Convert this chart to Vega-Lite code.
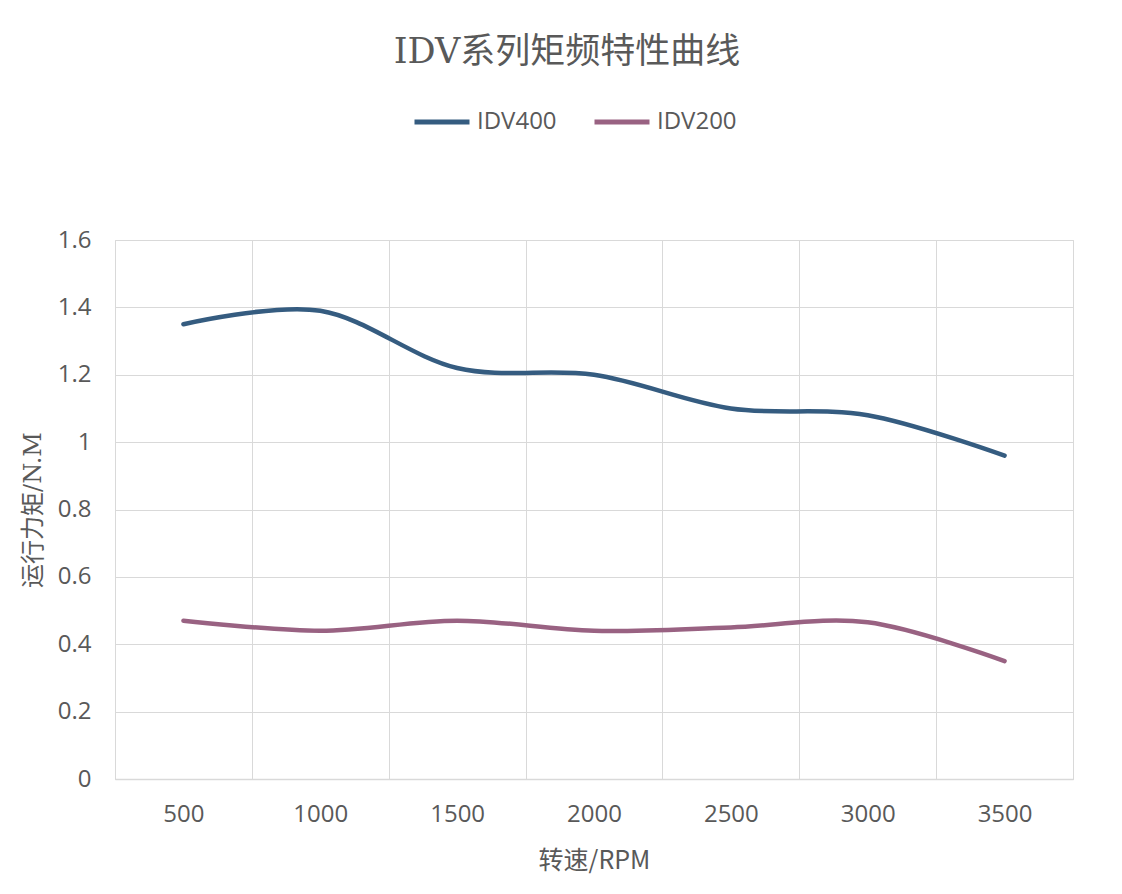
{
  "$schema": "https://vega.github.io/schema/vega-lite/v6.json",
  "width": 958,
  "height": 539,
  "autosize": {"type": "none"},
  "padding": {"left": 115, "top": 240, "right": 49, "bottom": 115},
  "background": "white",
  "title": {
    "text": "IDV系列矩频特性曲线",
    "font": "DejaVu Serif, Noto Sans CJK SC",
    "fontSize": 35,
    "fontWeight": "normal",
    "color": "#595959",
    "anchor": "middle",
    "offset": 22,
    "dx": -27
  },
  "data": {
    "values": [
      {"rpm": 500, "series": "IDV400", "torque": 1.35},
      {"rpm": 1000, "series": "IDV400", "torque": 1.39},
      {"rpm": 1500, "series": "IDV400", "torque": 1.22},
      {"rpm": 2000, "series": "IDV400", "torque": 1.2},
      {"rpm": 2500, "series": "IDV400", "torque": 1.1},
      {"rpm": 3000, "series": "IDV400", "torque": 1.08},
      {"rpm": 3500, "series": "IDV400", "torque": 0.96},
      {"rpm": 500, "series": "IDV200", "torque": 0.47},
      {"rpm": 1000, "series": "IDV200", "torque": 0.44},
      {"rpm": 1500, "series": "IDV200", "torque": 0.47},
      {"rpm": 2000, "series": "IDV200", "torque": 0.44},
      {"rpm": 2500, "series": "IDV200", "torque": 0.45},
      {"rpm": 3000, "series": "IDV200", "torque": 0.465},
      {"rpm": 3500, "series": "IDV200", "torque": 0.35}
    ]
  },
  "mark": {
    "type": "line",
    "interpolate": "cardinal",
    "strokeWidth": 4.5,
    "strokeCap": "round",
    "strokeJoin": "round"
  },
  "encoding": {
    "x": {
      "field": "rpm",
      "type": "ordinal",
      "bandPosition": 0.5,
      "scale": {"type": "band", "paddingInner": 0, "paddingOuter": 0},
      "axis": {
        "title": "转速/RPM",
        "titleFont": "Noto Sans CJK SC",
        "titleFontSize": 25,
        "titleFontWeight": "normal",
        "titleColor": "#595959",
        "titlePadding": 22,
        "labelAngle": 0,
        "labelFont": "Open Sans",
        "labelFontSize": 24,
        "labelColor": "#595959",
        "labelPadding": 23,
        "ticks": false,
        "tickBand": "extent",
        "grid": true,
        "gridColor": "#d9d9d9",
        "gridWidth": 1,
        "domainColor": "#d9d9d9",
        "domainWidth": 1.5
      }
    },
    "y": {
      "field": "torque",
      "type": "quantitative",
      "scale": {"domain": [0, 1.6], "nice": false},
      "axis": {
        "title": "运行力矩/N.M",
        "titleFont": "DejaVu Serif, Noto Sans CJK SC",
        "titleFontSize": 24,
        "titleFontWeight": "normal",
        "titleColor": "#595959",
        "titlePadding": 12,
        "values": [0, 0.2, 0.4, 0.6, 0.8, 1, 1.2, 1.4, 1.6],
        "format": "~g",
        "labelFont": "Open Sans",
        "labelFontSize": 24,
        "labelColor": "#595959",
        "labelPadding": 24,
        "ticks": false,
        "domain": false,
        "grid": true,
        "gridColor": "#d9d9d9",
        "gridWidth": 1
      }
    },
    "color": {
      "field": "series",
      "type": "nominal",
      "scale": {"domain": ["IDV400", "IDV200"], "range": ["#355C80", "#996282"]},
      "legend": {
        "title": null,
        "orient": "none",
        "legendX": 297,
        "legendY": -148,
        "direction": "horizontal",
        "symbolType": "stroke",
        "symbolSize": 3025,
        "symbolStrokeWidth": 5,
        "labelFont": "Open Sans",
        "labelFontSize": 24,
        "labelColor": "#595959",
        "labelOffset": 5,
        "columnPadding": 27
      }
    }
  },
  "config": {
    "view": {"stroke": "#d9d9d9", "strokeWidth": 1}
  }
}
